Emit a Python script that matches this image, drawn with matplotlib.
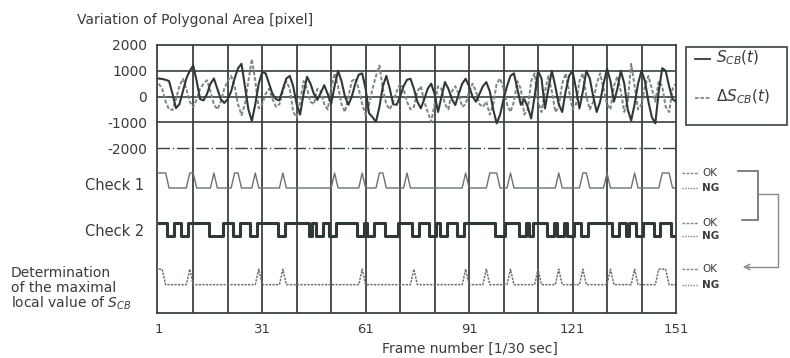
#!/usr/bin/env python3
"""Polygonal area variation with check / determination traces."""

import matplotlib.pyplot as plt
import numpy as np
from matplotlib.transforms import blended_transform_factory

W, H = 790, 358

frames = np.arange(1, 152)

# S_CB(t)
s_cb = [
    700, 680, 650, 600, 100, -450, -300, 200, 700, 1000,
    1200, 600, -100, -150, 100, 500, 700, 300, -100, -250,
    -100, 200, 700, 1100, 1270, 400, -500, -950, -300, 500,
    950, 900, 500, 100, -100, -150, 300, 700, 800, 400,
    -300, -700, 100, 770, 500, 100, -130, 150, 440, 100,
    -270, 400, 1000, 600, 0, -320, 0, 500, 850, 900,
    300, -650, -800, -980, -400, 400, 800, 300, -300, -320,
    0, 400, 650, 690, 300, -200, -460, -100, 300, 500,
    100, -600, 0, 560, 300, -100, -330, 100, 500, 690,
    400, 0, -200, 100, 400, 560, 200, -500, -1040, -700,
    -100, 400, 800, 900, 300, -320, -100, -400, -850, 0,
    1000, 700, -460, 300, 1000, 400, -300, -600, 200, 800,
    1000, 300, -460, 200, 1000, 700, 0, -600, -200, 500,
    1080, 600, -200, 300, 1000, 500, -500, -930, -300, 500,
    1000, 600, -200, -800, -1040, 200, 1100, 1000, 400, -100,
    -200,
]

# delta S_CB(t)
ds_cb = [
    500, 300, -200, -500, -520, -100, 400, 690, 300, -200,
    -410, -100, 300, 500, 630, 200, -300, -500, -200, 300,
    600, 800, 400, -300, -720, -300, 600, 1460, 600, -460,
    -300, 100, 300, -100, -400, -300, 200, 600, 300, -600,
    -800, -200, 600, 300, -200, -300, 300, 200, -300, -500,
    300, 900, 400, -300, -600, 0, 600, 700, 300, -300,
    -700, -300, 300, 800, 1200, 300, -300, -500, -200, 200,
    500, 300, -200, -500, -400, 200, 400, -200, -600, -975,
    -300, 400, 300, -300, -500, 200, 400, 100, -400, -300,
    200, 500, 200, -300, -400, -200, -700, -300, 500, 700,
    300, -300, -600, -200, 600, 300, -700, -500, 600, 900,
    -200, -600, 200, 800, 200, -600, -400, 500, 900, 200,
    -500, -300, 600, 900, 0, -500, -200, 500, 900, 300,
    -300, -500, 400, 800, 200, -600, -200, 1270, 400, -500,
    -300, 400, 800, 300, -200, 600, 400, -400, -600, 300,
    500,
]

# frames where each check is OK (check 2: frames where it is NG)
check1_ok = [1, 2, 3, 10, 11, 17, 23, 24, 29, 37, 52, 60, 65, 66, 73, 90,
             97, 98, 99, 103, 117, 124, 125, 131, 139, 147, 148, 149]
check2_ng = [4, 5, 8, 9, 16, 17, 18, 19, 23, 24, 28, 29, 36, 37, 45, 47, 48,
             51, 52, 59, 60, 62, 63, 67, 68, 69, 70, 75, 76, 80, 81, 83, 84,
             88, 89, 99, 100, 101, 106, 107, 109, 114, 115, 117, 118, 120,
             121, 124, 125, 133, 134, 137, 140, 141, 145, 146, 150, 151]
determ_ok = [1, 2, 10, 30, 37, 60, 75, 90, 96, 103, 111, 117, 124, 132, 139,
             146, 147, 148]

y_ticks = [2000, 1000, 0, -1000, -2000]
x_ticks = [1, 31, 61, 91, 121, 151]

# (OK, NG) level of each lower trace, in the area axis units
LEVELS = {"c1": (-2967, -3549), "c2": (-4900, -5420), "det": (-6700, -7300)}

DARK = "#2f3a34"
GRID = "#39433d"
LIGHT = "#7d8681"
TEXT = "#3b3b3b"

fig = plt.figure(figsize=(W / 100, H / 100), dpi=100)

# pixel-space overlay for the free text and bracket
ov = fig.add_axes([0, 0, 1, 1])
ov.set_xlim(0, W)
ov.set_ylim(H, 0)
ov.axis("off")

ax = fig.add_axes([157 / W, 1 - 313 / H, (676 - 157) / W, (313 - 45) / H])
ax.set_xlim(0.5, 151)
ax.set_ylim(-8400, 2000)

for y in (1000, 0, -1000):
    ax.axhline(y, color=GRID, lw=1.2, zorder=1)
ax.axhline(-2000, color=GRID, lw=1.0, ls=(0, (9, 2, 1, 2)), zorder=1)
for f in range(11, 151, 10):
    ax.axvline(f, color=GRID, lw=1.3, zorder=1)

ax.plot(frames, ds_cb, color=LIGHT, lw=1.4, ls=(0, (2, 1)), zorder=2)
ax.plot(frames, s_cb, color=DARK, lw=1.5, zorder=3)

ok, ng = LEVELS["c1"]
c1 = np.where(np.isin(frames, check1_ok), ok, ng)
ax.plot(frames, c1, color="#6a736d", lw=1.0, zorder=2)

ok, ng = LEVELS["c2"]
c2 = np.where(np.isin(frames, check2_ng), ng, ok)
ax.plot(frames, c2, color=DARK, lw=2.2, drawstyle="steps-mid", zorder=2)

ok, ng = LEVELS["det"]
c3 = np.where(np.isin(frames, determ_ok), ok, ng)
ax.plot(frames, c3, color="#6a736d", lw=1.1, ls=(0, (1.5, 0.8)), zorder=2)

for sp in ax.spines.values():
    sp.set_color(GRID)
    sp.set_linewidth(1.3)

ax.set_yticks(y_ticks)
ax.set_yticklabels([str(v) for v in y_ticks])
ax.set_xticks(x_ticks)
ax.set_xticklabels([str(v) for v in x_ticks])
ax.tick_params(axis="y", length=0, pad=7, labelsize=10, labelcolor=TEXT)
ax.tick_params(axis="x", length=0, pad=7, labelsize=9.5, labelcolor=TEXT)

# right-hand OK / NG keys
tr = blended_transform_factory(ax.transAxes, ax.transData)
for key in ("c1", "c2", "det"):
    ok, ng = LEVELS[key]
    ax.plot([1.012, 1.042], [ok, ok], transform=tr, clip_on=False,
            color=LIGHT, lw=1.0, ls=(0, (2, 1)))
    ax.plot([1.012, 1.042], [ng, ng], transform=tr, clip_on=False,
            color=LIGHT, lw=1.0, ls=(0, (1, 1)))
    ax.text(1.05, ok, "OK", transform=tr, fontsize=7.5, color=TEXT,
            va="center", ha="left")
    ax.text(1.05, ng, "NG", transform=tr, fontsize=7.5, color=TEXT,
            va="center", ha="left", fontweight="bold")

# left labels
ov.text(77, 20, "Variation of Polygonal Area [pixel]", fontsize=10,
        color=TEXT, ha="left", va="center")
ov.text(144, 185, "Check 1", fontsize=10.5, color=TEXT, ha="right", va="center")
ov.text(144, 232, "Check 2", fontsize=10.5, color=TEXT, ha="right", va="center")
ov.text(11, 273, "Determination", fontsize=10, color=TEXT, ha="left",
        va="center")
ov.text(11, 288, "of the maximal", fontsize=10, color=TEXT, ha="left",
        va="center")
ov.text(11, 303, r"local value of $S_{CB}$", fontsize=10, color=TEXT,
        ha="left", va="center")
ov.text(470, 349, "Frame number [1/30 sec]", fontsize=10, color=TEXT,
        ha="center", va="center")

# legend box
ov.add_patch(plt.Rectangle((686, 47), 101, 78, fill=False, ec=GRID, lw=1.2))
ov.plot([695, 710], [59, 59], color=DARK, lw=1.3)
ov.plot([695, 710], [98, 98], color=LIGHT, lw=1.3, ls=(0, (2, 1)))
ov.text(716, 58, r"$S_{CB}(t)$", fontsize=11, color=TEXT, va="center")
ov.text(716, 97, r"$\Delta S_{CB}(t)$", fontsize=11, color=TEXT, va="center")

# bracket linking check 1 / check 2 to the determination row
br = dict(color="#6a6a6a", lw=1.2)
ov.plot([738, 758, 758, 742], [171, 171, 220, 220], **br)
ov.plot([758, 778, 778, 748], [194, 194, 267, 267], color="#8a8a8a", lw=1.0)
ov.annotate("", xy=(740, 267), xytext=(752, 267),
            arrowprops=dict(arrowstyle="->", color="#8a8a8a", lw=1.0))

plt.savefig("out.png", dpi=100)
